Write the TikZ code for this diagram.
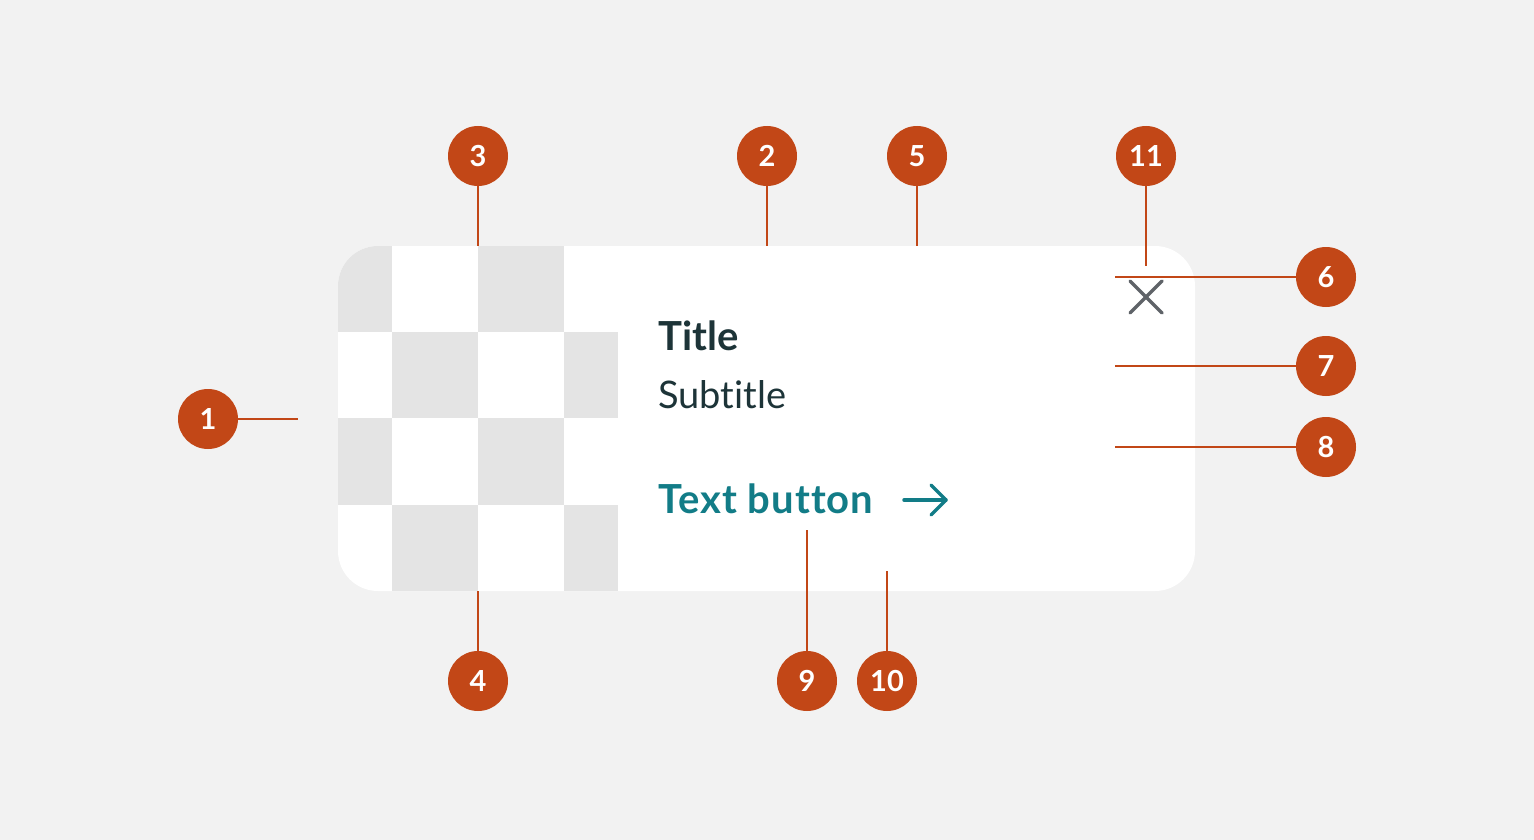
\documentclass[tikz,border=0pt]{standalone}
\usepackage{fontspec}
\setmainfont{Lato}[Ligatures={NoCommon}]
\definecolor{bg}{HTML}{F2F2F2}
\definecolor{badgec}{HTML}{C24717}
\definecolor{cellc}{HTML}{E4E4E4}
\definecolor{ink}{HTML}{1D3438}
\definecolor{tealc}{HTML}{127C87}
\definecolor{iconc}{HTML}{5F6368}
\begin{document}
\begin{tikzpicture}[x=1pt,y=-1pt,
  badge/.style={circle,fill=badgec,minimum size=60pt,inner sep=0pt,text=white,font=\bfseries\fontsize{29}{29}\selectfont},
  lead/.style={draw=badgec,line width=2pt},
  cellfill/.style={fill=cellc},
  glyph/.style={line width=3.5pt,line cap=round,line join=round}]
\fill[bg] (0,0) rectangle (1534,840);
\useasboundingbox (0,0) rectangle (1534,840);
% card
\fill[white, rounded corners=40pt] (338,246) rectangle (1195,591);
\begin{scope}
\clip[rounded corners=40pt] (338,246) rectangle (1195,591);
\fill[cellfill] (338,246) rectangle (392,332);
\fill[cellfill] (478,246) rectangle (564,332);
\fill[cellfill] (392,332) rectangle (478,418);
\fill[cellfill] (564,332) rectangle (618,418);
\fill[cellfill] (338,418) rectangle (392,505);
\fill[cellfill] (478,418) rectangle (564,505);
\fill[cellfill] (392,505) rectangle (478,591);
\fill[cellfill] (564,505) rectangle (618,591);
\end{scope}
% texts
\node[anchor=base west,inner sep=0pt,text=ink,font=\bfseries\fontsize{40}{40}\selectfont] (title) at (658,350) {Title};
\node[anchor=base west,inner sep=0pt,text=ink,font=\fontsize{38}{38}\selectfont] (subtitle) at (658,408) {Subtitle};
\node[anchor=base west,inner sep=0pt,text=tealc,font=\bfseries\fontsize{40}{40}\selectfont\addfontfeature{LetterSpace=2.5}] (button) at (658,513) {Text button};
% arrow icon
\draw[glyph,tealc] (904,500) -- (946,500);
\draw[glyph,tealc] (931,485) -- (946,500) -- (931,515);
% close icon
\draw[glyph,iconc] (1130,281) -- (1162,313);
\draw[glyph,iconc] (1162,281) -- (1130,313);
% badges
\node[badge] (b1) at (208,419) {1};
\node[badge] (b3) at (478,156) {3};
\node[badge] (b2) at (767,156) {2};
\node[badge] (b5) at (917,156) {5};
\node[badge] (b11) at (1146,156) {11};
\node[badge] (b6) at (1326,277) {6};
\node[badge] (b7) at (1326,366) {7};
\node[badge] (b8) at (1326,447) {8};
\node[badge] (b4) at (478,681) {4};
\node[badge] (b9) at (807,681) {9};
\node[badge] (b10) at (887,681) {10};
% leader end points
\coordinate (e1) at (298,419);
\coordinate (e3) at (478,246);
\coordinate (e2) at (767,246);
\coordinate (e5) at (917,246);
\coordinate (e11) at (1146,266);
\coordinate (e6) at (1115,277);
\coordinate (e7) at (1115,366);
\coordinate (e8) at (1115,447);
\coordinate (e4) at (478,591);
\coordinate (e9) at (807,530);
\coordinate (e10) at (887,571);
\draw[lead] (b1.east) -- (e1);
\draw[lead] (b3.south) -- (e3);
\draw[lead] (b2.south) -- (e2);
\draw[lead] (b5.south) -- (e5);
\draw[lead] (b11.south) -- (e11);
\draw[lead] (b6.west) -- (e6);
\draw[lead] (b7.west) -- (e7);
\draw[lead] (b8.west) -- (e8);
\draw[lead] (b4.north) -- (e4);
\draw[lead] (b9.north) -- (e9);
\draw[lead] (b10.north) -- (e10);
\end{tikzpicture}
\end{document}
